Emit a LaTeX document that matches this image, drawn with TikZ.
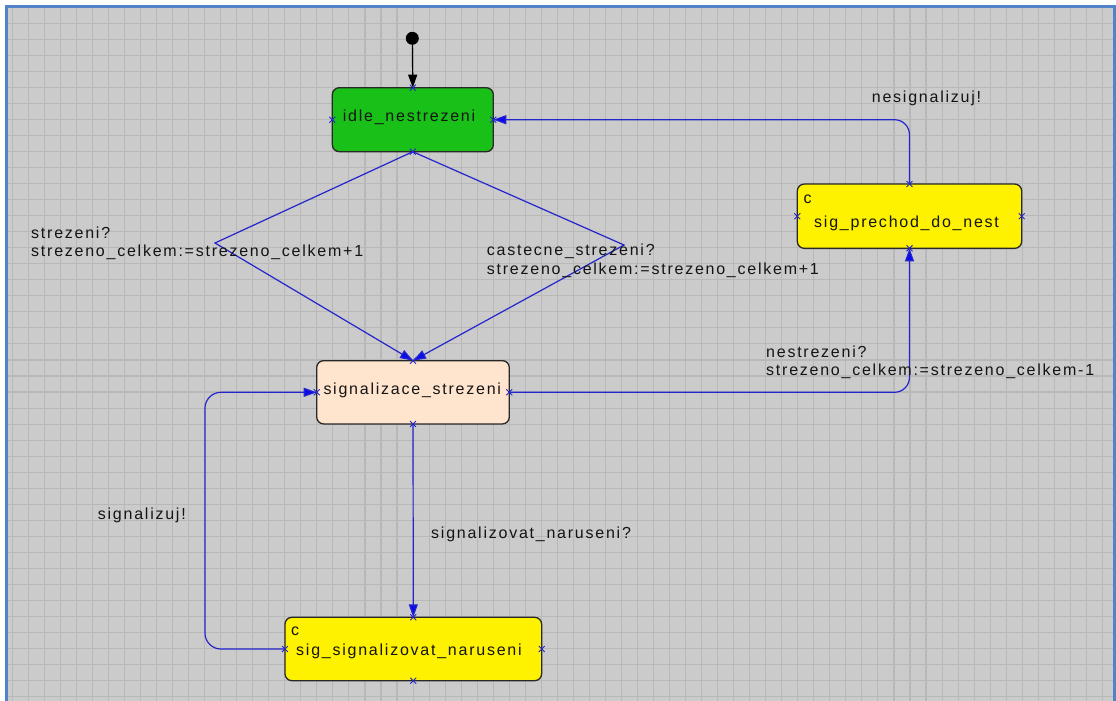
\documentclass[tikz,border=0pt]{standalone}
\usepackage{fontspec}
\setmainfont{Liberation Sans}[LetterSpace=11]
\usetikzlibrary{arrows.meta,shapes.misc}
\definecolor{bggray}{RGB}{203,203,203}
\definecolor{gridc}{RGB}{184,184,184}
\definecolor{frameblue}{RGB}{82,130,200}
\definecolor{edgeblue}{RGB}{36,36,205}
\definecolor{tipblue}{RGB}{10,10,235}
\definecolor{idlegreen}{RGB}{24,192,24}
\definecolor{peach}{RGB}{255,228,206}
\definecolor{boxborder}{RGB}{40,40,40}
\definecolor{txt}{RGB}{20,20,20}
\begin{document}
\begin{tikzpicture}[x=1pt,y=-1pt,
  every node/.style={font=\fontsize{16}{18.5}\selectfont, text=txt},
  box/.style={rectangle, rounded corners=7pt,
    draw=boxborder, line width=1.3pt, inner sep=0pt, outer sep=0pt},
  lbl/.style={anchor=west, align=left, inner sep=0pt},
  port/.style={cross out, draw=edgeblue, line width=0.9pt, minimum size=5pt, inner sep=0pt},
  edge/.style={draw=edgeblue, line width=1.2pt, -{Triangle[length=13pt,width=9pt,fill=tipblue]}},
  initedge/.style={draw=black, line width=1.2pt, -{Triangle[length=13pt,width=9pt]}},
  gridline/.style={draw=gridc, line width=1.1pt}
]
\useasboundingbox (0,0) rectangle (1116,701);
% background
\fill[white] (0,0) rectangle (1116,701);
\fill[bggray] (8,7.5) rectangle (1113,701);
\begin{scope}
\clip (8,7.5) rectangle (1113,701);
\foreach \i in {0,...,69} \draw[gridline] ({12.3+\i*16.03},7.5) -- ({12.3+\i*16.03},701);
\foreach \j in {0,...,43} \draw[gridline] (8,{7.3+\j*16.03}) -- (1113,{7.3+\j*16.03});
\end{scope}
\draw[frameblue, line width=2.8pt] (6.5,701) -- (6.5,6.2) -- (1114.6,6.2) -- (1114.6,701);

% states
\node[box, fill=idlegreen, minimum width=161pt, minimum height=64pt] (idle) at (412.8,119.7) {};
\node[box, fill=yellow, minimum width=224.4pt, minimum height=64.3pt] (prech) at (909.5,216.2) {};
\node[box, fill=peach, minimum width=192.6pt, minimum height=63.3pt] (sig) at (413,392.3) {};
\node[box, fill=yellow, minimum width=256.7pt, minimum height=63.4pt] (sigs) at (413.3,649) {};

\node[lbl] (idleT) at (342.7,117) {idle\_nestrezeni};
\node[lbl] (prechC) at (803.5,199) {c};
\node[lbl] (prechT) at (814,223.3) {sig\_prechod\_do\_nest};
\node[lbl] (sigT) at (323.3,390.7) {signalizace\_strezeni};
\node[lbl] (sigsC) at (291,631.7) {c};
\node[lbl] (sigsT) at (296,651) {sig\_signalizovat\_naruseni};

% initial
\node[circle, fill=black, inner sep=0pt, minimum size=13pt] (init) at (412.3,38.3) {};
\draw[initedge] (init) -- (idle.north);

% edges
\draw[edge] (idle.south) -- (215,243) -- (sig.north);
\draw[edge] (idle.south) -- (624,245) -- (sig.north);
\draw[edge, rounded corners=15pt] (sig.east) -| (prech.south);
\draw[edge, rounded corners=15pt] (prech.north) |- (idle.east);
\draw[edge] (sig.south) -- (sigs.north);
\draw[edge, rounded corners=16pt] (sigs.west) -- ++(-80,0) |- (sig.west);

% ports
\foreach \n in {idle,prech,sig,sigs}
  \foreach \a in {north,south,east,west}
    \node[port] (\n-\a) at (\n.\a) {};

% labels
\node[lbl] (l1) at (31,243.5) {strezeni?\\strezeno\_celkem:=strezeno\_celkem+1};
\node[lbl] (l2) at (486.7,261) {castecne\_strezeni?\\strezeno\_celkem:=strezeno\_celkem+1};
\node[lbl] (l3) at (766,362.2) {nestrezeni?\\strezeno\_celkem:=strezeno\_celkem-1};
\node[lbl] (l4) at (871.7,98) {nesignalizuj!};
\node[lbl] (l5) at (97.7,515.7) {signalizuj!};
\node[lbl] (l6) at (431,534) {signalizovat\_naruseni?};
\end{tikzpicture}
\end{document}
